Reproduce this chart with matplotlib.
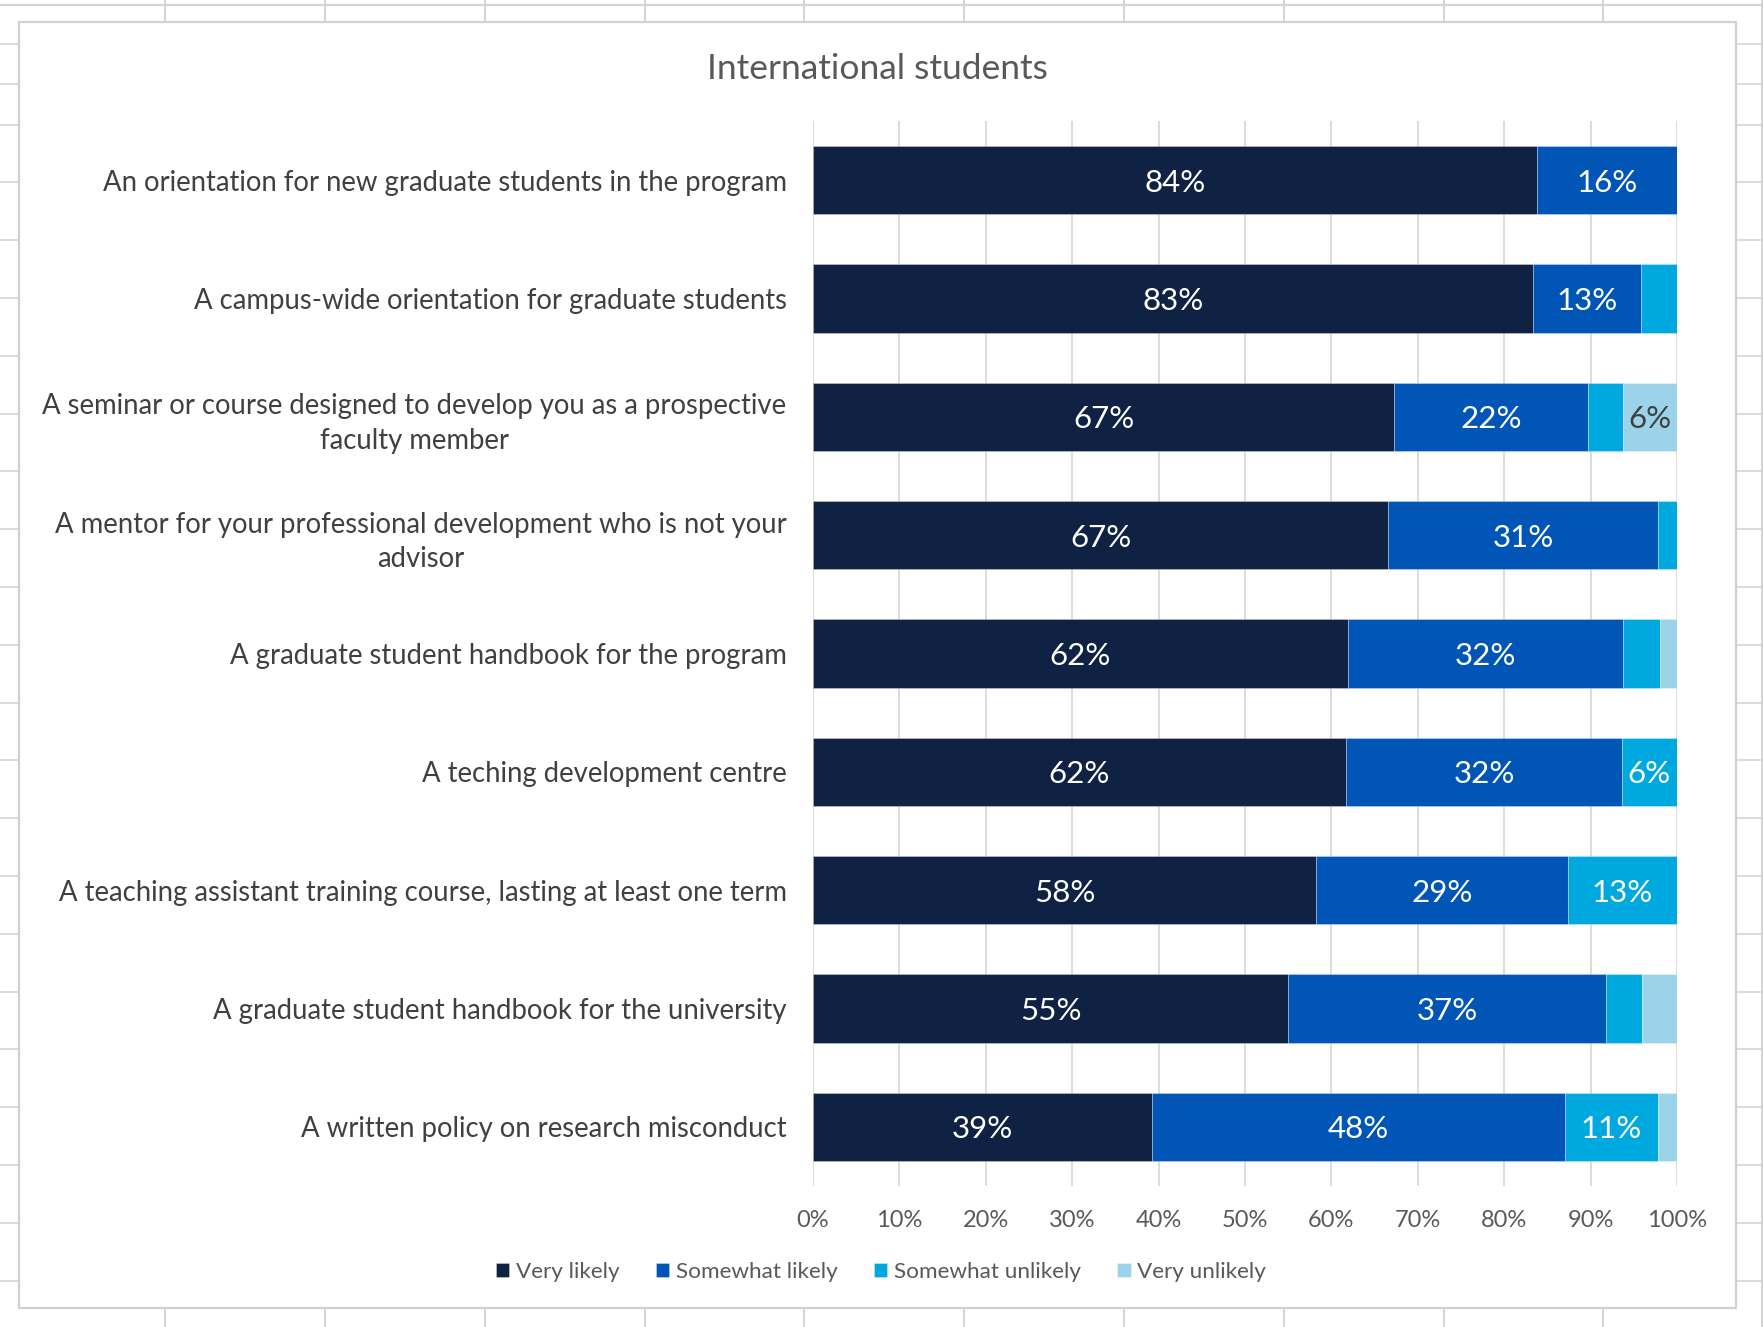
import matplotlib
matplotlib.use("Agg")
import matplotlib.pyplot as plt
from matplotlib.lines import Line2D
from matplotlib.patches import Rectangle
import numpy as np

categories = [
    "An orientation for new graduate students in the program",
    "A campus-wide orientation for graduate students",
    "A seminar or course designed to develop you as a prospective\nfaculty member",
    "A mentor for your professional development who is not your\nadvisor",
    "A graduate student handbook for the program",
    "A teching development centre",
    "A teaching assistant training course, lasting at least one term",
    "A graduate student handbook for the university",
    "A written policy on research misconduct",
]
very_likely       = [83.8, 83.3, 67.3, 66.6, 61.9, 61.7, 58.2, 55.0, 39.2]
somewhat_likely   = [16.2, 12.5, 22.4, 31.2, 31.9, 31.9, 29.2, 36.8, 47.8]
somewhat_unlikely = [0.0, 4.2, 4.1, 2.2, 4.2, 6.4, 12.6, 4.1, 10.8]
very_unlikely     = [0.0, 0.0, 6.2, 0.0, 2.0, 0.0, 0.0, 4.1, 2.2]
series_names = ["Very likely", "Somewhat likely", "Somewhat unlikely", "Very unlikely"]
series_colors = ["#0F2244", "#0055B7", "#00A8E0", "#9BD3EA"]
label_colors = ["white", "white", "white", "#404040"]
x_ticks = [0, 10, 20, 30, 40, 50, 60, 70, 80, 90, 100]
title = "International students"

FONT = ["Lato", "DejaVu Sans"]
plt.rcParams["font.family"] = FONT

W, H = 1763, 1327
fig = plt.figure(figsize=(W / 100, H / 100), dpi=100)
fig.patch.set_facecolor("white")

def fx(px):
    return px / W

def fy(py):
    return 1 - py / H

grid_c = "#D4D4D4"
# spreadsheet cell lines (background)
for x in [165, 325, 485, 645, 804, 964, 1124, 1284, 1444, 1603]:
    fig.add_artist(Line2D([fx(x), fx(x)], [fy(0), fy(H)], transform=fig.transFigure,
                          color=grid_c, lw=1.4, zorder=-3))
fig.add_artist(Line2D([fx(1762), fx(1762)], [fy(0), fy(H)], transform=fig.transFigure,
                      color=grid_c, lw=1.4, zorder=-3))
rows = [5, 44, 84] + list(np.arange(124.5, H, 57.8))
for y in rows:
    fig.add_artist(Line2D([0, 1], [fy(y), fy(y)], transform=fig.transFigure,
                          color=grid_c, lw=1.6 if y == 5 else 1.2, zorder=-3))
# chart area
fig.add_artist(Rectangle((fx(19), fy(1308)), fx(1736) - fx(19), fy(22) - fy(1308),
                         transform=fig.transFigure, facecolor="white",
                         edgecolor="#D0D0D0", lw=1.6, zorder=-2))

ax = fig.add_axes([fx(813), fy(1186), fx(1677) - fx(813), fy(121) - fy(1186)])
ax.patch.set_visible(False)

y = np.arange(len(categories))
left = np.zeros(len(categories))
for vals, name, col, lc in zip([very_likely, somewhat_likely, somewhat_unlikely, very_unlikely],
                               series_names, series_colors, label_colors):
    vals = np.array(vals)
    cont = ax.barh(y, vals, left=left, height=0.575, color=col, label=name,
                   edgecolor=(1, 1, 1, 0.35), linewidth=0.6, zorder=3)
    labels = [f"{int(v + 0.5)}%" if v >= 5 else "" for v in vals]
    texts = ax.bar_label(cont, labels=labels, label_type="center", color=lc, fontsize=22.5,
                         family=FONT)
    for t in texts:
        t.set_verticalalignment("center_baseline")
    left += vals

ax.set_xlim(0, 100)
ax.set_ylim(len(categories) - 0.5, -0.5)
ax.set_xticks(x_ticks)
ax.set_xticklabels([f"{t}%" for t in x_ticks], fontsize=17, color="#595959")
ax.set_yticks(y)
ax.set_yticklabels(categories, fontsize=19.8, color="#404040", linespacing=1.42)
for lab in ax.get_yticklabels():
    lab.set_multialignment("center")
ax.tick_params(axis="x", length=0, pad=17.5)
ax.tick_params(axis="y", length=0, pad=19)
ax.grid(axis="x", color="#D9D9D9", lw=1.3, zorder=0)
ax.set_axisbelow(True)
for s in ax.spines.values():
    s.set_visible(False)

fig.text(fx(877), fy(69), title, ha="center", va="center", fontsize=25.5, color="#595959")

leg = fig.legend(loc="center", bbox_to_anchor=(fx(881), fy(1272)), ncol=4, frameon=False,
                 fontsize=16.2, labelcolor="#595959", handlelength=0.6, handleheight=0.6,
                 handletextpad=0.3, columnspacing=1.6)

fig.savefig("out.png", dpi=100, facecolor="white")
